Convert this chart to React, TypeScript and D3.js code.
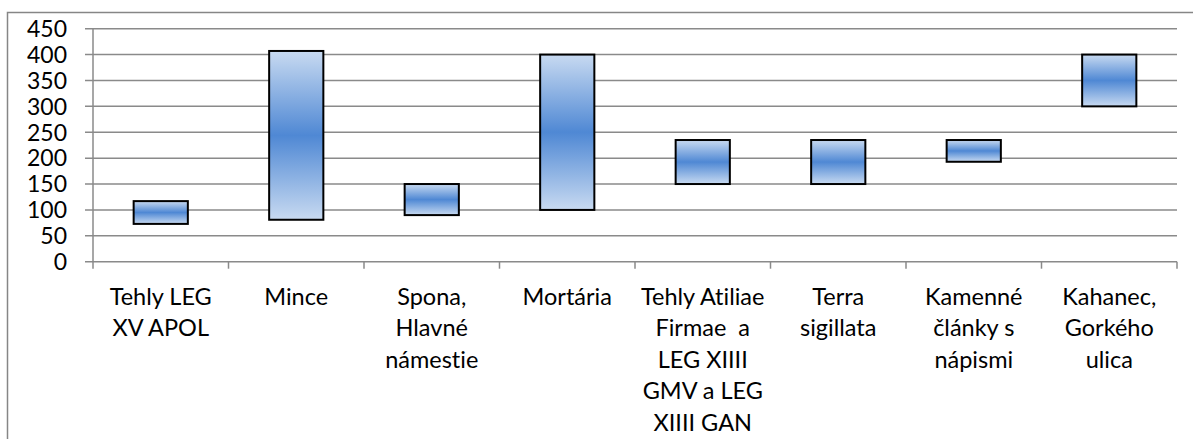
import React, { useEffect, useRef } from 'react';
import * as d3 from 'd3';

// categories, each split into the lines shown under the axis
const categories: string[][] = [
  ['Tehly LEG', 'XV APOL'],
  ['Mince'],
  ['Spona,', 'Hlavné', 'námestie'],
  ['Mortária'],
  ['Tehly Atiliae', 'Firmae  a', 'LEG XIIII', 'GMV a LEG', 'XIIII GAN'],
  ['Terra', 'sigillata'],
  ['Kamenné', 'články s', 'nápismi'],
  ['Kahanec,', 'Gorkého', 'ulica'],
];

const lows = [73, 81, 90, 100, 150, 150, 193, 300];
const highs = [117, 407, 150, 400, 235, 235, 235, 400];
const yTicks = [0, 50, 100, 150, 200, 250, 300, 350, 400, 450];

const W = 1193;
const H = 439;
const FONT = 'Lato, "Noto Sans", sans-serif';

const App: React.FC = () => {
  const svgRef = useRef<SVGSVGElement>(null);

  useEffect(() => {
    if (!svgRef.current) return;
    const svg = d3.select(svgRef.current);
    svg.selectAll('*').remove();

    const margin = { top: 28.7, left: 93, right: 16, bottom: 177.3 };
    const width = W - margin.left - margin.right;
    const height = H - margin.top - margin.bottom;

    // outer chart frame (runs off the right and bottom edges)
    svg.append('rect')
      .attr('x', 7.5).attr('y', 12.5)
      .attr('width', W + 20).attr('height', H + 20)
      .attr('fill', 'white')
      .attr('stroke', '#868686')
      .attr('stroke-width', 1.5);

    const defs = svg.append('defs');
    const grad = defs.append('linearGradient')
      .attr('id', 'barGrad')
      .attr('x1', 0).attr('y1', 0).attr('x2', 0).attr('y2', 1);
    grad.append('stop').attr('offset', '0%').attr('stop-color', '#c8daf1');
    grad.append('stop').attr('offset', '50%').attr('stop-color', '#4f88d4');
    grad.append('stop').attr('offset', '100%').attr('stop-color', '#c8daf1');

    const g = svg.append('g')
      .attr('transform', `translate(${margin.left},${margin.top})`);

    const x = d3.scaleBand<number>()
      .domain(d3.range(categories.length))
      .range([0, width])
      .paddingInner(0.6)
      .paddingOuter(0.3);

    const y = d3.scaleLinear().domain([0, 450]).range([height, 0]);

    // gridlines
    g.selectAll('.grid')
      .data(yTicks)
      .enter()
      .append('line')
      .attr('x1', -8).attr('x2', width)
      .attr('y1', d => y(d)).attr('y2', d => y(d))
      .attr('stroke', '#8a8a8a')
      .attr('stroke-width', 1.5);

    // y axis line
    g.append('line')
      .attr('x1', 0).attr('x2', 0)
      .attr('y1', 0).attr('y2', height)
      .attr('stroke', '#8a8a8a')
      .attr('stroke-width', 1.5);

    // x ticks at category boundaries
    const step = x.step();
    g.selectAll('.xtick')
      .data(d3.range(categories.length + 1))
      .enter()
      .append('line')
      .attr('x1', i => i * step).attr('x2', i => i * step)
      .attr('y1', height).attr('y2', height + 7)
      .attr('stroke', '#8a8a8a')
      .attr('stroke-width', 1.5);

    // y labels
    g.selectAll('.ylab')
      .data(yTicks)
      .enter()
      .append('text')
      .attr('x', -26)
      .attr('y', d => y(d))
      .attr('dy', '0.36em')
      .attr('text-anchor', 'end')
      .style('font-family', FONT)
      .style('font-size', '23px')
      .style('font-variant-ligatures', 'none')
      .style('fill', '#000')
      .text(d => d);

    // floating bars
    g.selectAll('.bar')
      .data(d3.range(categories.length))
      .enter()
      .append('rect')
      .attr('x', i => x(i) || 0)
      .attr('width', x.bandwidth())
      .attr('y', i => y(highs[i]))
      .attr('height', i => y(lows[i]) - y(highs[i]))
      .attr('fill', 'url(#barGrad)')
      .attr('stroke', '#000')
      .attr('stroke-width', 2);

    // category labels
    const labels = g.selectAll('.xlab')
      .data(categories)
      .enter()
      .append('text')
      .attr('text-anchor', 'middle')
      .style('font-family', FONT)
      .style('font-size', '23.5px')
      .style('font-variant-ligatures', 'none')
      .style('fill', '#000');

    labels.each(function (lines, i) {
      const cx = i * step + step / 2;
      d3.select(this)
        .selectAll('tspan')
        .data(lines)
        .enter()
        .append('tspan')
        .attr('x', cx)
        .attr('y', (d, j) => height + 43 + j * 31.6)
        .style('white-space', 'pre')
        .text(d => d);
    });
  }, []);

  return (
    <div style={{ position: 'absolute', left: 0, top: 0, width: W, height: H, overflow: 'hidden', background: '#fff' }}>
      <svg ref={svgRef} width={W} height={H}></svg>
    </div>
  );
};

export default App;
